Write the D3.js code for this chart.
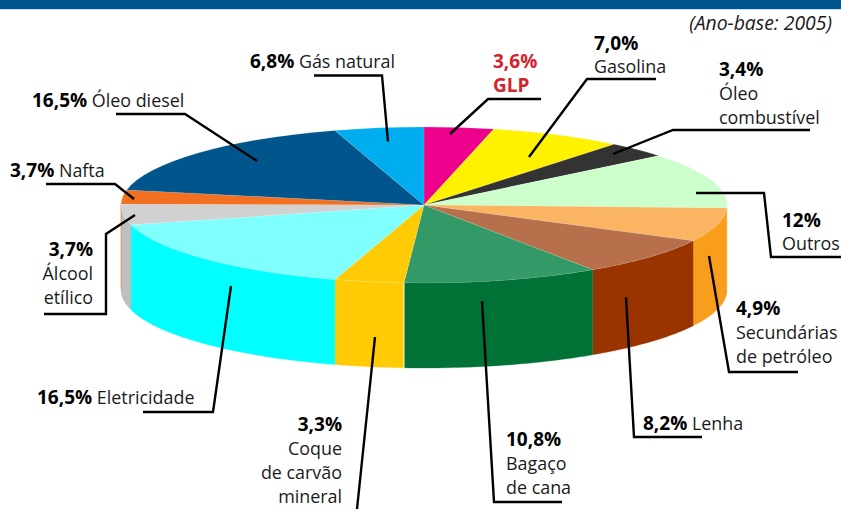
<!DOCTYPE html>
<html lang="pt">
<head>
<meta charset="utf-8">
<script src="https://cdn.jsdelivr.net/npm/d3@7"></script>
<style>
html,body{margin:0;padding:0;background:#fff;overflow:hidden}
text{font-family:"Open Sans","Noto Sans",sans-serif;font-size:17.9px;fill:#1a1a1a}
.v{font-weight:700;fill:#000;font-size:19px}
</style>
</head>
<body>
<svg id="chart" width="841" height="509"></svg>
<script>
// Clockwise from 12 o'clock
const categories = ["GLP","Gasolina","Óleo combustível","Outros","Secundárias de petróleo","Lenha","Bagaço de cana","Coque de carvão mineral","Eletricidade","Álcool etílico","Nafta","Óleo diesel","Gás natural"];
// Printed percentages
const printedValues = ["3,6%","7,0%","3,4%","12%","4,9%","8,2%","10,8%","3,3%","16,5%","3,7%","3,7%","16,5%","6,8%"];
// Slice sizes as drawn in the picture (they differ a little from the printed figures)
const drawnShares = [3.7,7.1,3.3,11.5,7.0,8.0,10.45,3.7,16.15,4.3,2.9,17.15,4.75];
const topColors  = ["#ec008c","#fff200","#333333","#ccffcc","#fbb562","#b8704c","#339966","#ffcb05","#80ffff","#d1d1d1","#f37021","#00558c","#00aeef"];
const sideColors = ["#ec008c","#fff200","#333333","#ccffcc","#f99d1c","#993300","#007236","#ffcb05","#00ffff","#bfbfbf","#f37021","#00558c","#00aeef"];
// Text lines after/below the percentage
const labelNames = [["GLP"],["Gasolina"],["Óleo","combustível"],["Outros"],["Secundárias","de petróleo"],["Lenha"],["Bagaço","de cana"],["Coque","de carvão","mineral"],["Eletricidade"],["Álcool","etílico"],["Nafta"],["Óleo diesel"],["Gás natural"]];

// Layout
const cx = 424, cy = 205, rx = 303, ry = 78, depth = 85;
const labelLayout = [
 {x:493,y:68,dy:24,stack:true,red:true},
 {x:594,y:50,dy:23,stack:true},
 {x:719,y:76,dy:24,stack:true},
 {x:782,y:227,dy:23,stack:true},
 {x:736,y:315,dy:24,stack:true},
 {x:643,y:430},
 {x:506,y:446,dy:24,stack:true},
 {x:342,y:431,dy:24,stack:true,end:true},
 {x:37,y:404},
 {x:93,y:256,dy:24,stack:true,end:true},
 {x:10,y:177},
 {x:32,y:107},
 {x:250,y:68}
];
const leaders = [
 [[450,134],[488,99],[541,99]],
 [[529,157],[587,79],[656,79]],
 [[613,154],[673,130],[810,130]],
 [[696,193],[764,193],[771,257],[841,257]],
 [[709,256],[729,372],[798,372]],
 [[626,297],[634,437],[702,437]],
 [[482,301],[494,502],[562,502]],
 [[375,337],[357,509]],
 [[231,286],[213,412],[143,412]],
 [[135,215],[106,234],[106,314],[44,314]],
 [[46,184],[115,184],[134,199]],
 [[116,114],[185,114],[257,161]],
 [[314,75.5],[382,75.5],[388,141.5]]
];

const svg = d3.select("#chart");
svg.append("rect").attr("x",0).attr("y",0).attr("width",841).attr("height",9).attr("fill","#00558c");
svg.append("rect").attr("x",0).attr("y",9).attr("width",841).attr("height",1).attr("fill","#bfe0f5");

const pie = d3.pie().sort(null).value(d=>d);
const slices = pie(drawnShares).map((s,i)=>({...s,i}));

// Side walls: only the part of each slice on the front half
const px = a => cx + rx*Math.sin(a), py = a => cy - ry*Math.cos(a);
const line = d3.line();
const walls = svg.append("g");
slices.forEach(s=>{
  const a0 = Math.max(s.startAngle, Math.PI/2), a1 = Math.min(s.endAngle, Math.PI*1.5+0.02);
  if (a1 <= a0) return;
  const steps = d3.range(0,41).map(k=>a0+(a1-a0)*k/40);
  const pts = steps.map(a=>[px(a),py(a)]).concat(steps.slice().reverse().map(a=>[px(a),py(a)+depth]));
  walls.append("path").attr("d",line(pts)+"Z").attr("fill",sideColors[s.i])
       .attr("stroke",sideColors[s.i]).attr("stroke-width",0.3);
});
// Thin white seam between the Bagaço and Coque walls
const seam = slices[6].endAngle;
walls.append("line").attr("x1",px(seam)).attr("x2",px(seam)).attr("y1",py(seam)).attr("y2",py(seam)+depth)
  .attr("stroke","#fff").attr("stroke-width",0.8);

// Top face
const arc = d3.arc().innerRadius(0).outerRadius(rx);
svg.append("g").attr("transform",`translate(${cx},${cy}) scale(1,${ry/rx})`)
  .selectAll("path").data(slices).join("path")
  .attr("d",arc).attr("fill",d=>topColors[d.i])
  .attr("stroke","#ffffff").attr("stroke-opacity",0.35).attr("stroke-width",0.5);

// Leaders
svg.append("g").selectAll("path").data(leaders).join("path")
  .attr("d",d=>d3.line()(d)).attr("fill","none").attr("stroke","#000")
  .attr("stroke-width",2.4).attr("stroke-linejoin","miter");

// Labels
const gl = svg.append("g");
categories.forEach((c,i)=>{
  const L = labelLayout[i], red = L.red ? "#d2232a" : null;
  const t = gl.append("text").attr("x",L.x).attr("y",L.y).attr("text-anchor",L.end?"end":"start");
  const v = t.append("tspan").attr("class","v").text(printedValues[i]);
  if (red) v.style("fill",red);
  if (L.stack) {
    labelNames[i].forEach((n,k)=>{
      const ts = gl.append("text").attr("x",L.x).attr("y",L.y+L.dy*(k+1)).attr("text-anchor",L.end?"end":"start").text(n);
      if (red) ts.style("fill",red).style("font-weight",700).style("font-size","19px");
    });
  } else {
    t.append("tspan").text(" "+labelNames[i][0]);
  }
});
svg.append("text").attr("x",832).attr("y",30).attr("text-anchor","end").style("font-style","italic").style("font-size","19.4px").text("(Ano-base: 2005)");
</script>
</body>
</html>
